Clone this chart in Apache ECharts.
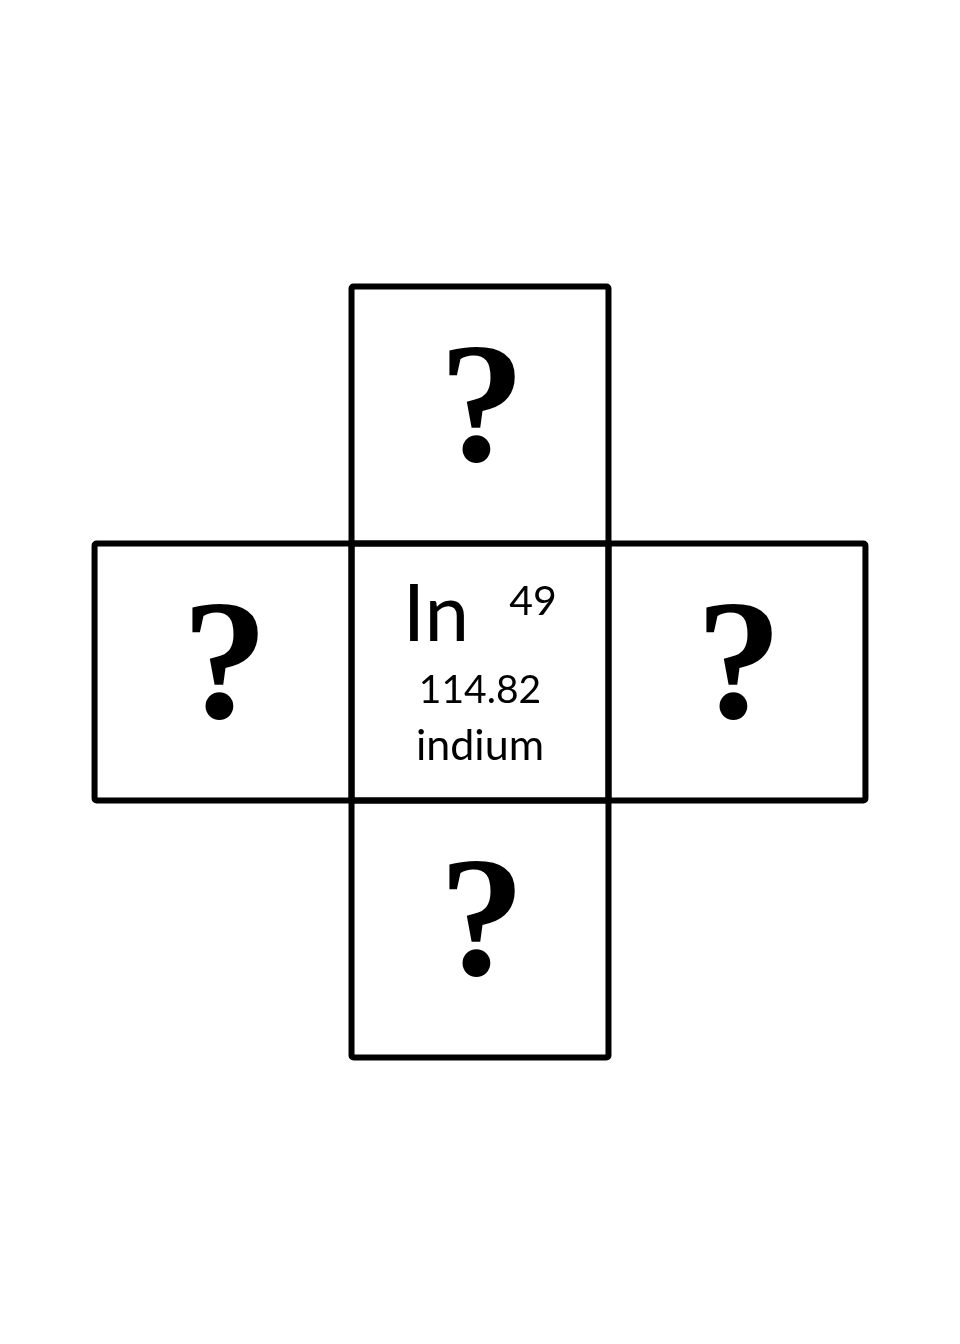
<!DOCTYPE html>
<html><head><meta charset="utf-8">
<script src="https://cdn.jsdelivr.net/npm/echarts@6/dist/echarts.min.js"></script>
<style>html,body{margin:0;background:#fff}#c{width:960px;height:1344px}</style>
</head><body><div id="c"></div>
<script>
// cells of the cross, in cell units (col, row), centre cell at 0,0
var cellCols = [0, -1, 0, 1, 0];
var cellRows = [-1, 0, 0, 0, 1];
var cellLabels = ['?', '?', 'In', '?', '?'];
var symbol = 'In';
var atomicNumber = '49';
var atomicMass = '114.82';
var elementName = 'indium';

var chart = echarts.init(document.getElementById('c'));
var data = cellCols.map(function (c, i) { return [c, cellRows[i], cellLabels[i]]; });

function renderItem(params, api) {
  var c = api.value(0), r = api.value(1), lab = api.value(2);
  var p0 = api.coord([c - 0.5, r - 0.5]);
  var p1 = api.coord([c + 0.5, r + 0.5]);
  var cx = (p0[0] + p1[0]) / 2, cy = (p0[1] + p1[1]) / 2;
  var kids = [{
    type: 'rect',
    shape: { x: p0[0], y: p0[1], width: p1[0] - p0[0], height: p1[1] - p0[1], r: 2 },
    style: { fill: 'none', stroke: '#000', lineWidth: 6 }
  }];
  if (lab === '?') {
    kids.push({ type: 'text', style: { text: '?', x: cx + 2, y: cy + 2, align: 'center', verticalAlign: 'middle',
      font: 'bold 172px "Liberation Serif", "DejaVu Serif", serif', fill: '#000' } });
  } else {
    var sans = '"Lato", "Open Sans", sans-serif';
    kids.push({ type: 'text', style: { text: symbol, x: cx - 44, y: cy - 57, align: 'center', verticalAlign: 'middle', font: '80px ' + sans, fill: '#000' } });
    kids.push({ type: 'text', style: { text: atomicNumber, x: cx + 53, y: cy - 70, align: 'center', verticalAlign: 'middle', font: '41px ' + sans, fill: '#000' } });
    kids.push({ type: 'text', style: { text: atomicMass, x: cx, y: cy + 18, align: 'center', verticalAlign: 'middle', font: '39px ' + sans, fill: '#000' } });
    kids.push({ type: 'text', style: { text: elementName, x: cx, y: cy + 74, align: 'center', verticalAlign: 'middle', font: '43px ' + sans, fill: '#000' } });
  }
  return { type: 'group', children: kids };
}

chart.setOption({
  animation: false,
  backgroundColor: '#fff',
  grid: { left: 0, top: 0, right: 0, bottom: 0 },
  xAxis: { type: 'value', min: -1.868, max: 1.868, show: false },
  yAxis: { type: 'value', min: -2.615, max: 2.615, inverse: true, show: false },
  series: [{ type: 'custom', renderItem: renderItem, data: data, clip: false }]
});
</script></body></html>
